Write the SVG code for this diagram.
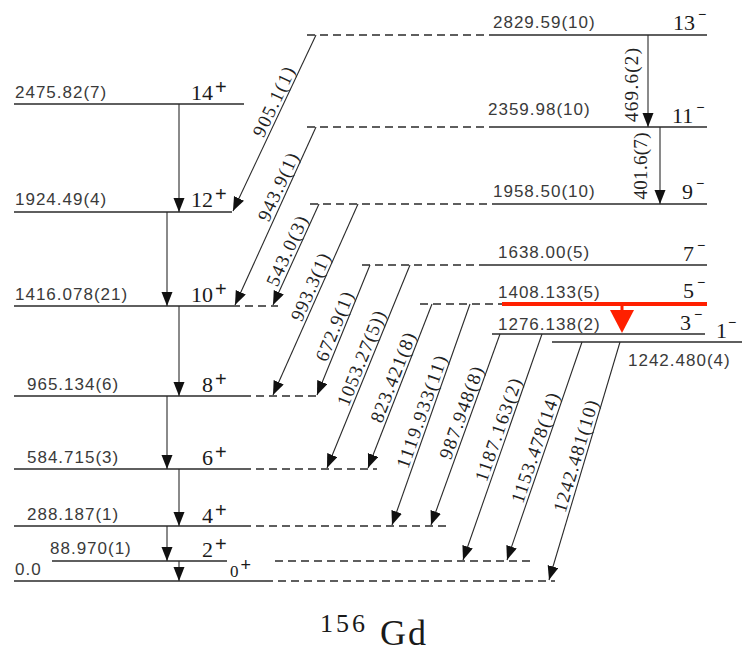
<svg xmlns="http://www.w3.org/2000/svg" width="742" height="658" viewBox="0 0 742 658">
<style>
.lv{stroke:#2a2a2a;stroke-width:1.3;fill:none}
.ds{stroke:#2a2a2a;stroke-width:1.3;fill:none;stroke-dasharray:8,5}
.ar{stroke:#2a2a2a;stroke-width:1.1;fill:none;marker-end:url(#ah)}
.en{font-family:"Liberation Sans",Arial,sans-serif;font-size:17px;letter-spacing:1px;fill:#3a3a3a}
.sp{font-family:"Liberation Serif","Times New Roman",serif;font-size:22px;fill:#1a1a1a}
.sup{font-family:"Liberation Sans",Arial,sans-serif;font-size:20px}
.supm{font-family:"Liberation Sans",Arial,sans-serif;font-size:14px}
.tr{font-family:"Liberation Serif","Times New Roman",serif;font-size:19px;fill:#222;text-anchor:middle}
</style>
<defs>
<marker id="ah" markerUnits="userSpaceOnUse" markerWidth="16" markerHeight="13" refX="14" refY="5.5" orient="auto">
<path d="M0,0 L14,5.5 L0,11 z" fill="#111"/>
</marker>
</defs>

<g id="level-14p">
<line class="lv" x1="14" y1="104" x2="244" y2="104"/>
<text class="en" x="15" y="98">2475.82(7)</text>
<text class="sp" x="191" y="100">14<tspan class="sup" dx="2" dy="-6">+</tspan></text>
</g>
<g id="level-12p">
<line class="lv" x1="14" y1="212" x2="232" y2="212"/>
<text class="en" x="15" y="205">1924.49(4)</text>
<text class="sp" x="191" y="207">12<tspan class="sup" dx="2" dy="-6">+</tspan></text>
</g>
<g id="level-10p">
<line class="lv" x1="14" y1="306" x2="232" y2="306"/>
<line class="ds" x1="232" y1="306" x2="278" y2="306"/>
<text class="en" x="15" y="300">1416.078(21)</text>
<text class="sp" x="191" y="302">10<tspan class="sup" dx="2" dy="-6">+</tspan></text>
</g>
<g id="level-8p">
<line class="lv" x1="14" y1="396" x2="243" y2="396"/>
<line class="ds" x1="243" y1="396" x2="320" y2="396"/>
<text class="en" x="27" y="390">965.134(6)</text>
<text class="sp" x="202" y="392">8<tspan class="sup" dx="2" dy="-6">+</tspan></text>
</g>
<g id="level-6p">
<line class="lv" x1="14" y1="469" x2="243" y2="469"/>
<line class="ds" x1="243" y1="469" x2="377" y2="469"/>
<text class="en" x="27" y="463">584.715(3)</text>
<text class="sp" x="202" y="465">6<tspan class="sup" dx="2" dy="-6">+</tspan></text>
</g>
<g id="level-4p">
<line class="lv" x1="14" y1="526" x2="243" y2="526"/>
<line class="ds" x1="243" y1="526" x2="447" y2="526"/>
<text class="en" x="27" y="520">288.187(1)</text>
<text class="sp" x="202" y="523">4<tspan class="sup" dx="2" dy="-6">+</tspan></text>
</g>
<g id="level-2p">
<line class="lv" x1="52" y1="561" x2="227" y2="561"/>
<line class="ds" x1="275" y1="561" x2="533" y2="561"/>
<text class="en" x="50" y="554">88.970(1)</text>
<text class="sp" x="202" y="557">2<tspan class="sup" dx="2" dy="-6">+</tspan></text>
</g>
<g id="level-0p">
<line class="lv" x1="14" y1="581" x2="265" y2="581"/>
<line class="ds" x1="265" y1="581" x2="555" y2="581"/>
<text class="en" x="15" y="575">0.0</text>
<text class="sp" x="230" y="577" style="font-size:17px">0<tspan class="sup" dx="2" dy="-6" style="font-size:18px">+</tspan></text>
</g>

<g id="level-13m">
<line class="ds" x1="307" y1="35" x2="493" y2="35"/>
<line class="lv" x1="493" y1="35" x2="707" y2="35"/>
<text class="en" x="493" y="28">2829.59(10)</text>
<text class="sp" x="673" y="30">13<tspan class="supm" dx="3" dy="-11">−</tspan></text>
</g>
<g id="level-11m">
<line class="ds" x1="307" y1="127" x2="493" y2="127"/>
<line class="lv" x1="493" y1="127" x2="707" y2="127"/>
<text class="en" x="488" y="115">2359.98(10)</text>
<text class="sp" x="672" y="123">11<tspan class="supm" dx="3" dy="-11">−</tspan></text>
</g>
<g id="level-9m">
<line class="ds" x1="310" y1="204" x2="493" y2="204"/>
<line class="lv" x1="493" y1="204" x2="707" y2="204"/>
<text class="en" x="493" y="197">1958.50(10)</text>
<text class="sp" x="682" y="199">9<tspan class="supm" dx="3" dy="-11">−</tspan></text>
</g>
<g id="level-7m">
<line class="ds" x1="362" y1="265" x2="487" y2="265"/>
<line class="lv" x1="487" y1="265" x2="707" y2="265"/>
<text class="en" x="498" y="258">1638.00(5)</text>
<text class="sp" x="683" y="261">7<tspan class="supm" dx="3" dy="-11">−</tspan></text>
</g>
<g id="level-5m">
<line class="ds" x1="420" y1="304" x2="502" y2="304"/>
<text class="en" x="498" y="298">1408.133(5)</text>
<text class="sp" x="683" y="298">5<tspan class="supm" dx="3" dy="-11">−</tspan></text>
<line x1="502" y1="304" x2="707" y2="304" stroke="#ff2000" stroke-width="4"/>
<line x1="622" y1="305" x2="622" y2="311" stroke="#ff2000" stroke-width="3"/>
<polygon points="610,310 634,310 622,333" fill="#ff2000"/>
</g>
<g id="level-3m">
<line class="lv" x1="492" y1="334" x2="705" y2="334"/>
<text class="en" x="498" y="330">1276.138(2)</text>
<text class="sp" x="680" y="330">3<tspan class="supm" dx="3" dy="-11">−</tspan></text>
</g>
<g id="level-1m">
<line class="lv" x1="552" y1="342" x2="742" y2="342"/>
<text class="en" x="628" y="366">1242.480(4)</text>
<text class="sp" x="716" y="338">1<tspan class="supm" dx="1" dy="-11">−</tspan></text>
</g>

<g id="connectors">
<line class="ar" x1="179" y1="104" x2="179" y2="212"/>
<line class="ar" x1="167" y1="212" x2="167" y2="306"/>
<line class="ar" x1="179" y1="306" x2="179" y2="396"/>
<line class="ar" x1="167" y1="396" x2="167" y2="469"/>
<line class="ar" x1="179" y1="469" x2="179" y2="526"/>
<line class="ar" x1="167" y1="526" x2="167" y2="561"/>
<line class="ar" x1="179" y1="561" x2="179" y2="581"/>
<line class="ar" x1="648" y1="35" x2="648" y2="127"/>
<line class="ar" x1="660" y1="127" x2="660" y2="204"/>

<line class="ar" x1="316" y1="35" x2="233" y2="211"/>
<line class="ar" x1="316" y1="127" x2="235" y2="305"/>
<line class="ar" x1="319" y1="204" x2="273" y2="305"/>
<line class="ar" x1="358" y1="204" x2="273" y2="395"/>
<line class="ar" x1="370" y1="265" x2="317" y2="395"/>
<line class="ar" x1="410" y1="265" x2="327" y2="468"/>
<line class="ar" x1="432" y1="304" x2="368" y2="468"/>
<line class="ar" x1="470" y1="304" x2="392" y2="525"/>
<line class="ar" x1="500" y1="334" x2="431" y2="525"/>
<line class="ar" x1="542" y1="334" x2="463" y2="560"/>
<line class="ar" x1="582" y1="342" x2="507" y2="560"/>
<line class="ar" x1="620" y1="342" x2="549" y2="580"/>

<text class="tr" transform="translate(631,85) rotate(-90)" dy="0.35em" textLength="74" lengthAdjust="spacing">469.6(2)</text>
<text class="tr" transform="translate(640,166) rotate(-90)" dy="0.35em" textLength="67" lengthAdjust="spacing">401.6(7)</text>

<text class="tr" transform="translate(273.5,101.7) rotate(-64.7)" dy="0.35em" textLength="75" lengthAdjust="spacing">905.1(1)</text>
<text class="tr" transform="translate(277.8,186.8) rotate(-65.4)" dy="0.35em" textLength="73" lengthAdjust="spacing">943.9(1)</text>
<text class="tr" transform="translate(286.7,250.9) rotate(-65.5)" dy="0.35em" textLength="75" lengthAdjust="spacing">543.0(3)</text>
<text class="tr" transform="translate(310.2,287) rotate(-66.1)" dy="0.35em" textLength="72" lengthAdjust="spacing">993.3(1)</text>
<text class="tr" transform="translate(334.2,326.3) rotate(-68)" dy="0.35em" textLength="73" lengthAdjust="spacing">672.9(1)</text>
<text class="tr" transform="translate(361,358.2) rotate(-67.9)" dy="0.35em" textLength="101" lengthAdjust="spacing">1053.27(5))</text>
<text class="tr" transform="translate(392.7,377.4) rotate(-68.8)" dy="0.35em" textLength="95" lengthAdjust="spacing">823.421(8)</text>
<text class="tr" transform="translate(421.4,411.7) rotate(-70.6)" dy="0.35em" textLength="118" lengthAdjust="spacing">1119.933(11)</text>
<text class="tr" transform="translate(461,412.6) rotate(-70.1)" dy="0.35em" textLength="97" lengthAdjust="spacing">987.948(8)</text>
<text class="tr" transform="translate(498,429.7) rotate(-70.7)" dy="0.35em" textLength="108" lengthAdjust="spacing">1187.163(2)</text>
<text class="tr" transform="translate(535,447.8) rotate(-71.1)" dy="0.35em" textLength="115" lengthAdjust="spacing">1153.478(14)</text>
<text class="tr" transform="translate(575.5,456.1) rotate(-73.4)" dy="0.35em" textLength="116" lengthAdjust="spacing">1242.481(10)</text>
</g>

<g id="title">
<text x="320" y="632" style="font-family:'Liberation Serif','Times New Roman',serif;font-size:26px;letter-spacing:3px;fill:#1a1a1a">156</text>
<text x="380" y="645" style="font-family:'Liberation Serif','Times New Roman',serif;font-size:36px;letter-spacing:2px;fill:#1a1a1a">Gd</text>
</g>
</svg>
